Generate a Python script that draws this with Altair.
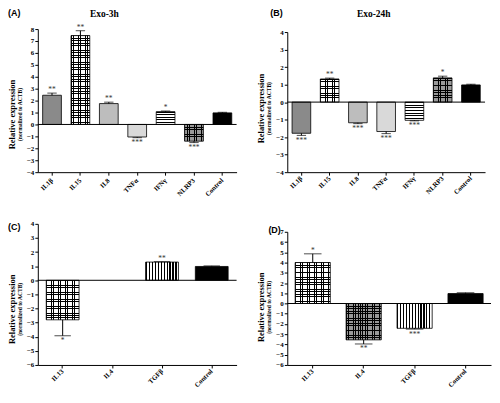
import altair as alt
import pandas as pd

# ---------------- data ----------------
cyt_cats = ["IL1β", "IL15", "IL8", "TNFα", "IFNγ", "NLRP3", "Control"]
a_vals = [2.45, 7.45, 1.75, -1.05, 1.07, -1.40, 0.97]
a_errs = [2.63, 7.86, 1.87, -1.11, 1.13, -1.52, 1.02]
a_sig = ["**", "**", "**", "***", "*", "***", ""]

b_vals = [-1.78, 1.32, -1.18, -1.68, -1.04, 1.38, 0.98]
b_errs = [-1.90, 1.37, -1.23, -1.80, -1.07, 1.48, 1.02]
b_sig = ["***", "**", "***", "***", "***", "*", ""]

th_cats = ["IL13", "IL4", "TGFβ", "Control"]
c_vals = [-2.80, 0.0, 1.29, 0.98]
c_errs = [-3.93, 0.0, 1.32, 1.02]
c_sig = ["*", "", "**", ""]

d_vals = [4.00, -3.55, -2.42, 0.97]
d_errs = [4.85, -3.95, -2.50, 1.05]
d_sig = ["*", "**", "***", ""]

a_ticks = [-4, -3, -2, -1, 0, 1, 2, 3, 4, 5, 6, 7, 8]
b_ticks = [-4, -3, -2, -1, 0, 1, 2, 3, 4]
c_ticks = [-6, -5, -4, -3, -2, -1, 0, 1, 2, 3, 4]
d_ticks = [-6, -5, -4, -3, -2, -1, 0, 1, 2, 3, 4, 5, 6, 7]

panel_tags = ["(A)", "(B)", "(C)", "(D)"]
panel_titles = ["Exo-3h", "Exo-24h"]
y_title = "Relative expression"
y_subtitle = "(normalized to ACTB)"

# ---------------- styles ----------------
SERIF = "Liberation Serif"
SANS = "Liberation Sans"
cyt_pats = ["grey", "checker", "light", "lighter", "hstripe", "darkchecker", "black"]
c_pats = ["checker", "checker", "vstripe", "black"]
d_pats = ["checker", "darkchecker", "vstripe", "black"]
base_fill = {"grey": "#8a8a8a", "checker": "#ffffff", "light": "#bdbdbd",
             "lighter": "#d9d9d9", "hstripe": "#ffffff", "darkchecker": "#9a9a9a",
             "black": "#000000", "vstripe": "#ffffff"}


def stripe_gradient(n, fg, bg, horizontal_lines, duty=0.4):
    stops = []
    for i in range(n):
        a = round(i / n, 5)
        b = round((i + duty) / n, 5)
        c = round((i + 1) / n, 5)
        stops += [alt.GradientStop(offset=a, color=fg), alt.GradientStop(offset=b, color=fg),
                  alt.GradientStop(offset=b, color=bg), alt.GradientStop(offset=c, color=bg)]
    if horizontal_lines:
        return alt.LinearGradient(gradient="linear", stops=stops, x1=0, x2=0, y1=0, y2=1)
    return alt.LinearGradient(gradient="linear", stops=stops, x1=0, x2=1, y1=0, y2=0)


def text_layer(txt, x, y, size, font, align="left", baseline="top", angle=0, weight="bold"):
    kw = dict(text=txt, align=align, baseline=baseline, font=font, fontSize=size,
              fontWeight=weight, color="black")
    if angle:
        kw["angle"] = angle
    return alt.Chart(pd.DataFrame({"t": [0]})).mark_text(**kw).encode(
        x=alt.value(x), y=alt.value(y))


def panel(cats, vals, errs, sig, pats, ticks, W, H, top, pad, tag, tag_pos,
          title=None, title_x=0, ytitle_y=70, label_pad=2):
    df = pd.DataFrame({"cat": cats, "val": vals, "err": errs, "sig": sig, "pat": pats})
    df["fill"] = [base_fill[p] for p in pats]
    dmin, dmax = ticks[0], ticks[-1]
    ppu = (H - top) / (dmax - dmin)
    step = W / len(cats)
    bw = step * (1 - pad)

    xenc = alt.X("cat:N", sort=cats, title=None,
                 scale=alt.Scale(paddingInner=pad, paddingOuter=pad / 2),
                 axis=alt.Axis(labelAngle=-45, labelAlign="right", labelBaseline="middle",
                               labelFont=SERIF, labelFontWeight="bold", labelFontSize=6.8,
                               labelColor="black", tickColor="black", tickSize=3,
                               domainColor="black", domainWidth=1, labelPadding=label_pad,
                               labelOverlap=False))
    yscale = alt.Scale(domain=[dmin, dmax], range=[H, top], nice=False, zero=False)
    yaxis = alt.Axis(values=ticks, tickCount=len(ticks), labelFont=SERIF,
                     labelFontWeight="bold", labelFontSize=7, labelColor="black",
                     tickColor="black", tickSize=3, domainColor="black", domainWidth=1,
                     grid=False, labelPadding=1, labelFlush=False, labelOverlap=False,
                     labelBound=False)
    yv = alt.Y("val:Q", title=None, scale=yscale, axis=yaxis)
    ye = alt.Y("err:Q", title=None, scale=yscale, axis=yaxis)
    base = alt.Chart(df)

    layers = [base.mark_bar().encode(x=xenc, y=yv, y2=alt.datum(0),
                                     fill=alt.Fill("fill:N", scale=None))]
    for cat, v, p in zip(cats, vals, pats):
        if v == 0:
            continue
        sel = base.transform_filter(alt.datum.cat == cat)
        if p in ("hstripe", "checker", "darkchecker"):
            if p == "hstripe":
                n = max(1, round(abs(v) * ppu / 2.8))
                g = stripe_gradient(n, "black", "#ffffff", True, 0.4)
            else:
                n = max(1, round(abs(v) * ppu / 2.4))
                g = stripe_gradient(n, "black", base_fill[p], True, 0.3)
            layers.append(sel.mark_bar(fill=g).encode(x=xenc, y=yv, y2=alt.datum(0)))
        if p in ("vstripe", "checker", "darkchecker"):
            if p == "vstripe":
                n = max(1, round(bw / 2.9))
                g = stripe_gradient(n, "black", "#ffffff", False, 0.4)
            else:
                n = max(1, round(bw / 2.4))
                g = stripe_gradient(n, "black", "transparent", False, 0.3)
            layers.append(sel.mark_bar(fill=g).encode(x=xenc, y=yv, y2=alt.datum(0)))
    # outline
    layers.append(base.transform_filter("datum.val != 0")
                  .mark_bar(fillOpacity=0, stroke="black", strokeWidth=0.8)
                  .encode(x=xenc, y=yv, y2=alt.datum(0)))
    # error bars
    layers.append(base.transform_filter("datum.val != 0")
                  .mark_rule(color="black", strokeWidth=1)
                  .encode(x=xenc, y=yv, y2="err:Q"))
    layers.append(base.transform_filter("datum.val != 0")
                  .mark_tick(color="black", thickness=1, size=bw / 2)
                  .encode(x=xenc, y=ye))
    # significance stars
    layers.append(base.transform_filter("datum.val > 0")
                  .mark_text(baseline="alphabetic", dy=-1, font=SERIF, fontSize=7.5,
                             color="#333333")
                  .encode(x=xenc, y=ye, text="sig:N"))
    layers.append(base.transform_filter("datum.val < 0")
                  .mark_text(baseline="top", dy=1.5, font=SERIF, fontSize=7.5,
                             color="#333333")
                  .encode(x=xenc, y=ye, text="sig:N"))
    # zero line
    layers.append(alt.Chart(pd.DataFrame({"val": [0]})).mark_rule(color="black", strokeWidth=1)
                  .encode(y=yv))
    # texts
    layers.append(text_layer(tag, tag_pos[0], tag_pos[1], 9, SANS,
                             baseline=tag_pos[2]))
    if title:
        layers.append(text_layer(title, title_x, -20, 9.5, SERIF, align="center"))
    layers.append(text_layer(y_title, -26, ytitle_y, 8.5, SERIF, align="center",
                             baseline="middle", angle=270))
    layers.append(text_layer(y_subtitle, -18, ytitle_y, 5.6, SERIF, align="center",
                             baseline="middle", angle=270))
    return alt.layer(*layers).properties(width=W, height=H)


pA = panel(cyt_cats, a_vals, a_errs, a_sig, cyt_pats, a_ticks, 200, 144, 0, 0.34,
           panel_tags[0], (-30, -20, "top"), panel_titles[0], 67, 86, label_pad=4)
pB = panel(cyt_cats, b_vals, b_errs, b_sig, cyt_pats, b_ticks, 199, 144, 3, 0.34,
           panel_tags[1], (-17, -20, "top"), panel_titles[1], 87, 80)
pC = panel(th_cats, c_vals, c_errs, c_sig, c_pats, c_ticks, 200, 142, 0, 0.34,
           panel_tags[2], (-30, 3, "middle"), None, 0, 86)
pD = panel(th_cats, d_vals, d_errs, d_sig, d_pats, d_ticks, 205, 142, 8, 0.31,
           panel_tags[3], (-19, 6, "middle"), None, 0, 84)

chart = alt.concat(pA, pB, pC, pD, columns=2, spacing={"row": 52, "column": 51},
                   bounds="flush", align="each").properties(
    padding=0, background="white"
).configure_view(stroke=None)

chart.save("out.html", embed_options={"renderer": "svg", "actions": False})
